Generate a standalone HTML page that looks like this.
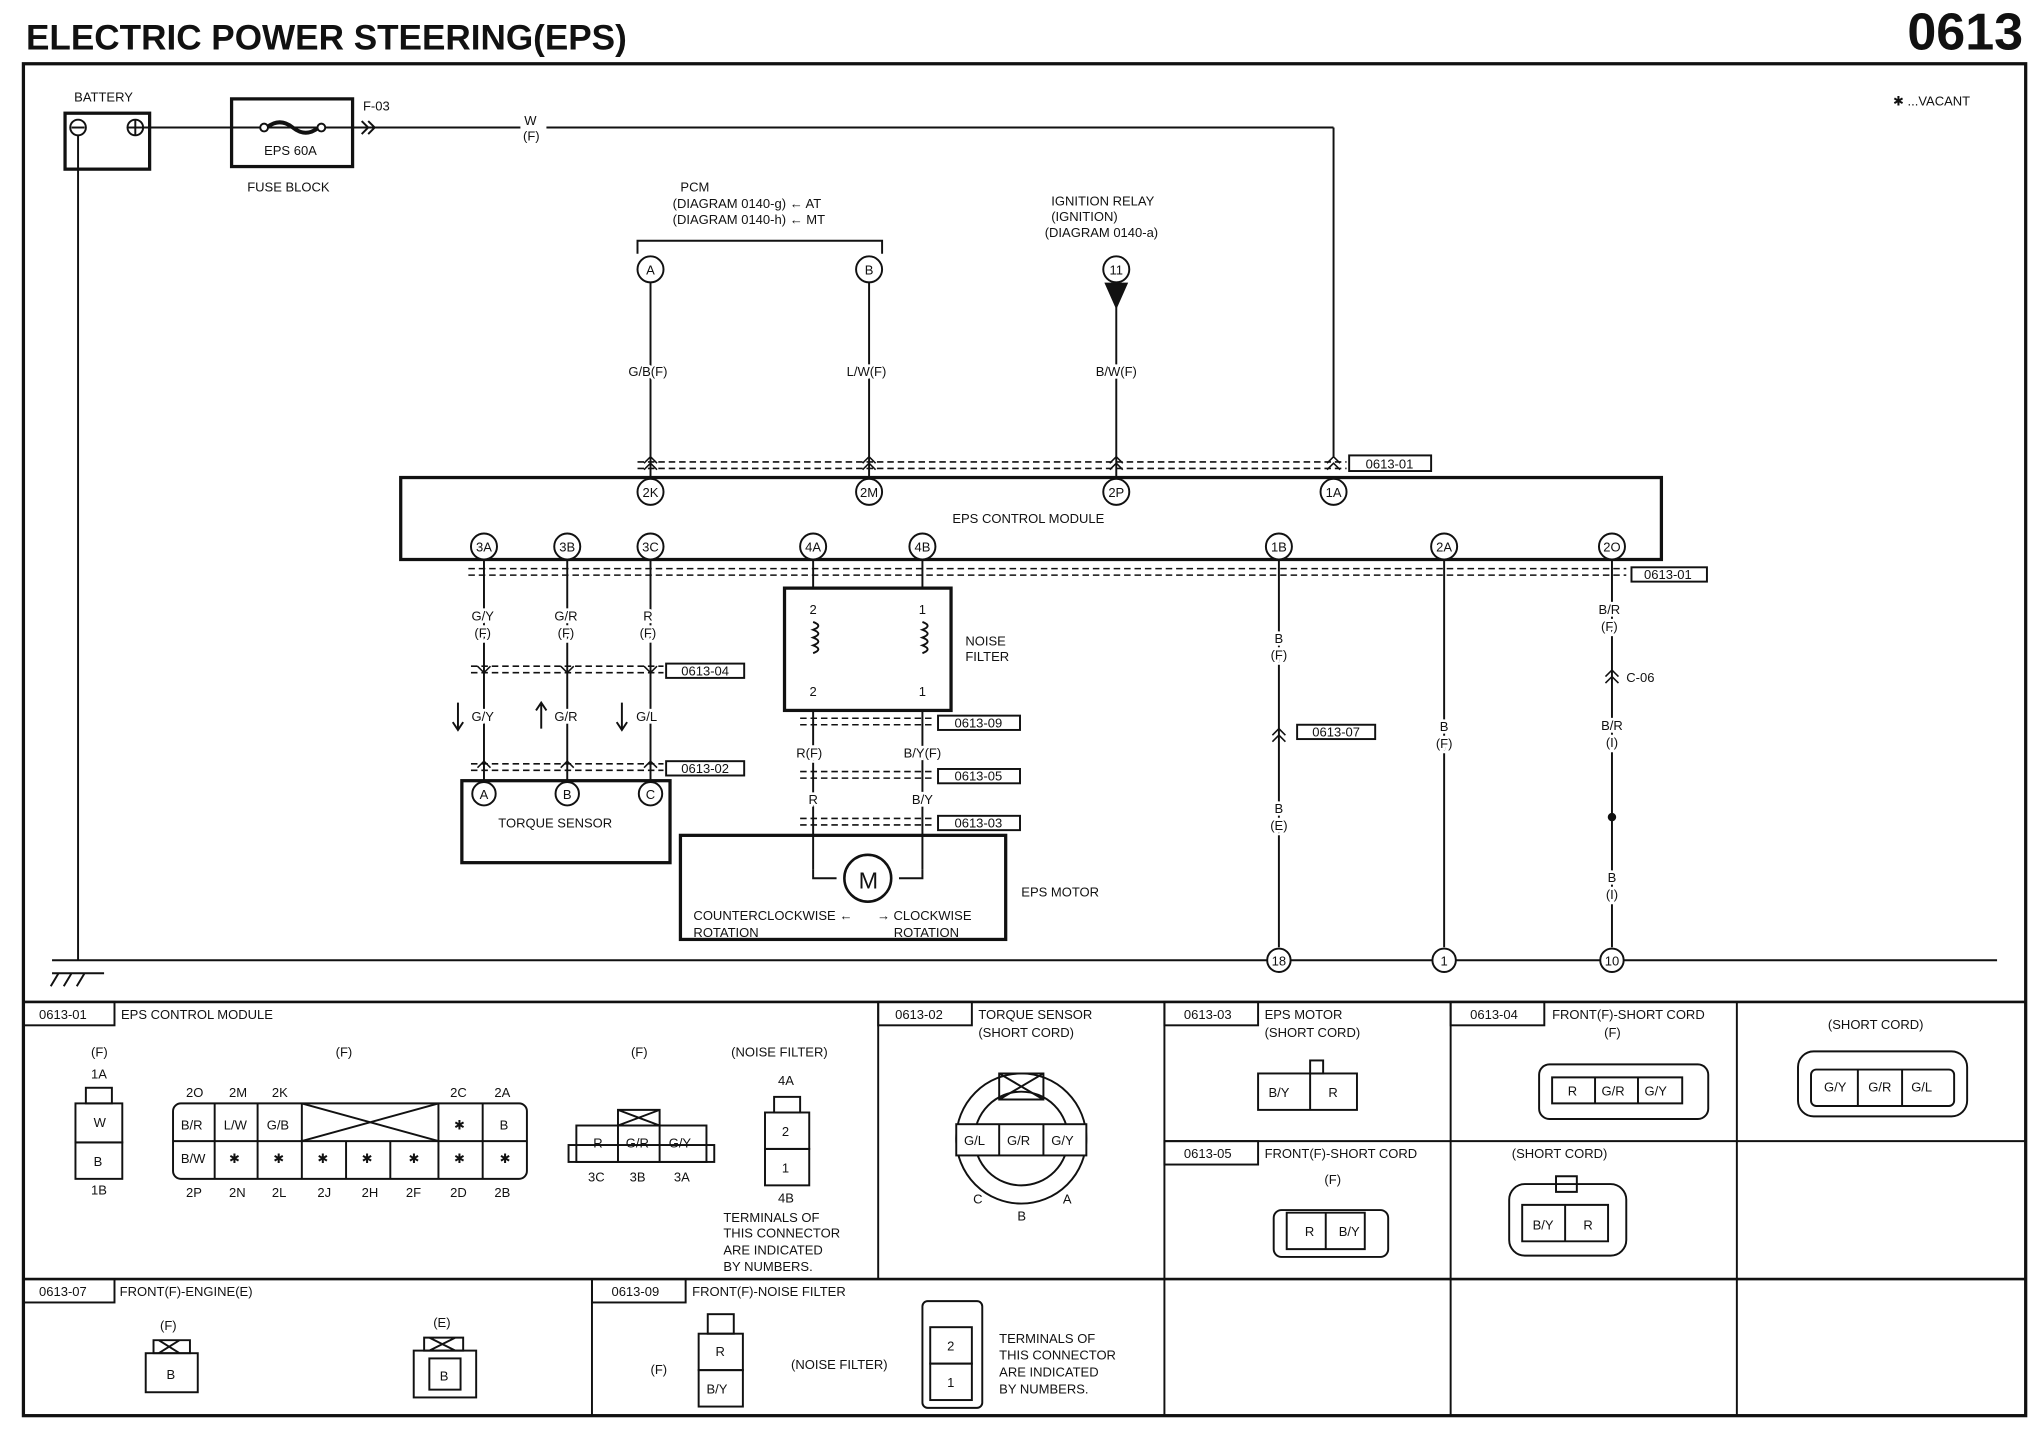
<!DOCTYPE html>
<html><head><meta charset="utf-8"><style>
html,body{margin:0;padding:0;background:#fff}
svg{display:block}
text{font-family:"Liberation Sans",Arial,sans-serif;font-size:10px;fill:#111}
.b{font-weight:bold}
.w text{paint-order:stroke;stroke:#fff;stroke-width:4px}
</style></head><body>
<svg width="2040" height="1456" viewBox="0 0 1568 1119" preserveAspectRatio="none" xmlns="http://www.w3.org/2000/svg">
<g stroke="#111" fill="none" stroke-width="1.5">
<rect x="18" y="49" width="1539" height="1039" stroke-width="2.5"/>
<line x1="18" y1="770" x2="1557" y2="770" stroke-width="2"/>
<line x1="18" y1="983" x2="1557" y2="983" stroke-width="2"/>
<line x1="675" y1="770" x2="675" y2="983"/>
<line x1="895" y1="770" x2="895" y2="1088"/>
<line x1="1115" y1="770" x2="1115" y2="1088"/>
<line x1="1335" y1="770" x2="1335" y2="1088"/>
<line x1="455" y1="983" x2="455" y2="1088"/>
<line x1="895" y1="877" x2="1557" y2="877"/>
<rect x="50" y="87" width="65" height="43" stroke-width="2.5"/>
<circle cx="60" cy="98" r="6"/><line x1="55" y1="98" x2="65" y2="98"/>
<circle cx="104" cy="98" r="6"/><line x1="98" y1="98" x2="110" y2="98"/><line x1="104" y1="92" x2="104" y2="104"/>
<line x1="110" y1="98" x2="400" y2="98"/>
<line x1="420" y1="98" x2="1025" y2="98"/>
<line x1="1025" y1="98" x2="1025" y2="352"/>
<rect x="178" y="76" width="93" height="52" stroke-width="2.5"/>
<path d="M205 98 q10-8 20 0 q10 8 20 0" stroke-width="3"/>
<circle cx="203" cy="98" r="3" fill="#fff"/><circle cx="247" cy="98" r="3" fill="#fff"/>
<path d="M278 93 l5 5 l-5 5 M283 93 l5 5 l-5 5"/>
<line x1="60" y1="104" x2="60" y2="738"/>
<line x1="40" y1="738" x2="1535" y2="738"/>
<path d="M40 748 h40 M45 748 l-6 10 M55 748 l-6 10 M65 748 l-6 10"/>
<path d="M490 195 v-10 h188 v10"/>
<circle cx="500" cy="207" r="10"/><circle cx="668" cy="207" r="10"/><circle cx="858" cy="207" r="10"/>
<path d="M850 218 h16 l-8 18 z" fill="#111"/>
<line x1="500" y1="217" x2="500" y2="367"/>
<line x1="668" y1="217" x2="668" y2="367"/>
<line x1="858" y1="236" x2="858" y2="367"/>
<g stroke-dasharray="5 3" stroke-width="1.2">
<line x1="490" y1="355" x2="1035" y2="355"/><line x1="490" y1="360" x2="1035" y2="360"/>
<line x1="360" y1="437" x2="1250" y2="437"/><line x1="360" y1="442" x2="1250" y2="442"/>
<line x1="362" y1="512" x2="510" y2="512"/><line x1="362" y1="517" x2="510" y2="517"/>
<line x1="362" y1="587" x2="510" y2="587"/><line x1="362" y1="592" x2="510" y2="592"/>
<line x1="615" y1="552" x2="718" y2="552"/><line x1="615" y1="557" x2="718" y2="557"/>
<line x1="615" y1="593" x2="718" y2="593"/><line x1="615" y1="598" x2="718" y2="598"/>
<line x1="615" y1="629" x2="718" y2="629"/><line x1="615" y1="634" x2="718" y2="634"/>
</g>
<rect x="308" y="367" width="969" height="63" stroke-width="2.5"/>
<g fill="#fff">
<circle cx="500" cy="378" r="10"/><circle cx="668" cy="378" r="10"/><circle cx="858" cy="378" r="10"/><circle cx="1025" cy="378" r="10"/>
<circle cx="372" cy="420" r="10"/><circle cx="436" cy="420" r="10"/><circle cx="500" cy="420" r="10"/><circle cx="625" cy="420" r="10"/><circle cx="709" cy="420" r="10"/><circle cx="983" cy="420" r="10"/><circle cx="1110" cy="420" r="10"/><circle cx="1239" cy="420" r="10"/>
</g>
<line x1="372" y1="430" x2="372" y2="600"/><line x1="436" y1="430" x2="436" y2="600"/><line x1="500" y1="430" x2="500" y2="600"/>
<line x1="625" y1="430" x2="625" y2="452"/><line x1="709" y1="430" x2="709" y2="452"/>
<line x1="625" y1="546" x2="625" y2="668"/><line x1="709" y1="546" x2="709" y2="668"/>
<line x1="983" y1="430" x2="983" y2="728"/><line x1="1110" y1="430" x2="1110" y2="728"/><line x1="1239" y1="430" x2="1239" y2="728"/>
<circle cx="1239" cy="628" r="2.5" fill="#111"/>
<g stroke-width="1.2">
<path d="M495 356 l5-5 l5 5 M495 361 l5-5 l5 5 M663 356 l5-5 l5 5 M663 361 l5-5 l5 5 M853 356 l5-5 l5 5 M853 361 l5-5 l5 5 M1020 356 l5-5 l5 5 M1020 361 l5-5 l5 5"/>
<path d="M367 512 l5 5 l5-5 M431 512 l5 5 l5-5 M495 512 l5 5 l5-5 M367 590 l5-5 l5 5 M431 590 l5-5 l5 5 M495 590 l5-5 l5 5"/>
<path d="M978 565 l5-5 l5 5 M978 570 l5-5 l5 5 M1234 520 l5-5 l5 5 M1234 525 l5-5 l5 5"/>
</g>
<circle cx="983" cy="738" r="9" fill="#fff"/><circle cx="1110" cy="738" r="9" fill="#fff"/><circle cx="1239" cy="738" r="9" fill="#fff"/>
<rect x="603" y="452" width="128" height="94" stroke-width="2.5"/>
<path d="M625 478 q8 3 0 6 q8 3 0 6 q8 3 0 6 q8 3 0 6 M709 478 q8 3 0 6 q8 3 0 6 q8 3 0 6 q8 3 0 6"/>
<rect x="355" y="600" width="160" height="63" stroke-width="2.5"/>
<circle cx="372" cy="610" r="9" fill="#fff"/><circle cx="436" cy="610" r="9" fill="#fff"/><circle cx="500" cy="610" r="9" fill="#fff"/>
<rect x="523" y="642" width="250" height="80" stroke-width="2.5"/>
<path d="M625 668 v7 h18 M709 668 v7 h-18"/>
<circle cx="667" cy="675" r="18" stroke-width="2"/>
<path d="M352 540 v20 M348 555 l4 6 l4-6 M416 540 v20 M412 546 l4-6 l4 6 M478 540 v20 M474 555 l4 6 l4-6"/>
<rect x="1037" y="350" width="63" height="12"/><rect x="1254" y="436" width="58" height="11"/>
<rect x="512" y="510" width="60" height="11"/><rect x="512" y="585" width="60" height="11"/>
<rect x="721" y="550" width="63" height="11"/><rect x="721" y="591" width="63" height="11"/><rect x="721" y="627" width="63" height="11"/>
<rect x="997" y="557" width="60" height="11"/>
<rect x="18" y="770" width="70" height="18"/><rect x="675" y="770" width="72" height="18"/><rect x="895" y="770" width="72" height="18"/><rect x="1115" y="770" width="72" height="18"/><rect x="895" y="877" width="72" height="18"/><rect x="18" y="983" width="70" height="18"/><rect x="455" y="983" width="72" height="18"/>
<rect x="58" y="848" width="36" height="30"/><rect x="58" y="878" width="36" height="28"/><rect x="66" y="836" width="20" height="12"/>
<rect x="133" y="848" width="272" height="58" rx="6"/><line x1="133" y1="877" x2="405" y2="877"/>
<path d="M165 848v58M198 848v58M232 848v58M266 877v29M300 877v29M337 848v58M371 848v58M232 848L337 877M232 877L337 848"/>
<rect x="443" y="865" width="100" height="28"/><rect x="437" y="880" width="112" height="13"/>
<path d="M475 865v28M507 865v28M475 853h32v12h-32zM475 853l32 12M507 853l-32 12"/>
<rect x="588" y="855" width="34" height="28"/><rect x="588" y="883" width="34" height="28"/><rect x="595" y="843" width="20" height="12"/>
<circle cx="785" cy="875" r="50"/><circle cx="785" cy="875" r="36"/>
<rect x="735" y="864" width="100" height="24" fill="#fff"/><path d="M768 864v24M802 864v24"/>
<path d="M768 825h34v20h-34zM768 825l34 20M802 825l-34 20"/>
<rect x="967" y="825" width="76" height="28"/><line x1="1007" y1="825" x2="1007" y2="853"/><rect x="1007" y="815" width="10" height="10"/>
<rect x="1183" y="818" width="130" height="42" rx="8"/><path d="M1193 828h100v20h-100zM1226 828v20M1259 828v20"/>
<rect x="1382" y="808" width="130" height="50" rx="12"/><rect x="1392" y="822" width="110" height="28" rx="4"/><path d="M1428 822v28M1462 822v28"/>
<rect x="979" y="930" width="88" height="36" rx="6"/><path d="M989 932h60v28h-60zM1019 932v28"/>
<rect x="1160" y="910" width="90" height="55" rx="12"/><path d="M1170 926h66v28h-66zM1203 926v28M1196 904h16v12h-16z"/>
<rect x="112" y="1040" width="40" height="30"/><path d="M118 1030h28v10h-28zM122 1030l16 10M138 1030l-16 10"/>
<rect x="318" y="1038" width="48" height="36"/><rect x="330" y="1044" width="24" height="24"/><path d="M326 1028h30v10h-30zM330 1028l20 10M350 1028l-20 10"/>
<rect x="537" y="1025" width="34" height="28"/><rect x="537" y="1053" width="34" height="28"/><rect x="544" y="1010" width="20" height="15"/>
<rect x="709" y="1000" width="46" height="82" rx="4"/><rect x="715" y="1020" width="32" height="28"/><rect x="715" y="1048" width="32" height="28"/>
</g>
<text class="b" x="20" y="38" style="font-size:27px">ELECTRIC POWER STEERING(EPS)</text>
<text class="b" x="1555" y="38" text-anchor="end" style="font-size:40px">0613</text>
<text x="57" y="78">BATTERY</text>
<text x="203" y="119">EPS 60A</text><text x="190" y="147">FUSE BLOCK</text>
<text x="279" y="85">F-03</text>
<text x="403" y="96">W</text><text x="402" y="108">(F)</text>
<text x="1455" y="81">✱ ...VACANT</text>
<text x="523" y="147">PCM</text><text x="517" y="160">(DIAGRAM 0140-g) ← AT</text><text x="517" y="172">(DIAGRAM 0140-h) ← MT</text>
<text x="808" y="158">IGNITION RELAY</text><text x="808" y="170">(IGNITION)</text><text x="803" y="182">(DIAGRAM 0140-a)</text>
<g text-anchor="middle" style="font-size:9px">
<text x="500" y="211">A</text><text x="668" y="211">B</text><text x="858" y="211">11</text>
<text x="500" y="382">2K</text><text x="668" y="382">2M</text><text x="858" y="382">2P</text><text x="1025" y="382">1A</text>
<text x="372" y="424">3A</text><text x="436" y="424">3B</text><text x="500" y="424">3C</text><text x="625" y="424">4A</text><text x="709" y="424">4B</text><text x="983" y="424">1B</text><text x="1110" y="424">2A</text><text x="1239" y="424">2O</text>
<text x="372" y="614">A</text><text x="436" y="614">B</text><text x="500" y="614">C</text>
<text x="983" y="742">18</text><text x="1110" y="742">1</text><text x="1239" y="742">10</text>
<g class="w">
<text x="498" y="289">G/B(F)</text><text x="666" y="289">L/W(F)</text><text x="858" y="289">B/W(F)</text>
<text x="371" y="477">G/Y</text><text x="371" y="490">(F)</text><text x="435" y="477">G/R</text><text x="435" y="490">(F)</text><text x="498" y="477">R</text><text x="498" y="490">(F)</text>
<text x="371" y="554">G/Y</text><text x="435" y="554">G/R</text><text x="497" y="554">G/L</text>
<text x="622" y="582">R(F)</text><text x="709" y="582">B/Y(F)</text><text x="625" y="618">R</text><text x="709" y="618">B/Y</text>
<text x="983" y="494">B</text><text x="983" y="507">(F)</text><text x="983" y="625">B</text><text x="983" y="638">(E)</text>
<text x="1110" y="562">B</text><text x="1110" y="575">(F)</text>
<text x="1237" y="472">B/R</text><text x="1237" y="485">(F)</text><text x="1239" y="561">B/R</text><text x="1239" y="574">(I)</text><text x="1239" y="678">B</text><text x="1239" y="691">(I)</text>
</g>
<text x="625" y="472">2</text><text x="709" y="472">1</text><text x="625" y="535">2</text><text x="709" y="535">1</text>
<text x="1068" y="360">0613-01</text><text x="1282" y="445">0613-01</text>
<text x="542" y="519">0613-04</text><text x="542" y="594">0613-02</text>
<text x="752" y="559">0613-09</text><text x="752" y="600">0613-05</text><text x="752" y="636">0613-03</text><text x="1027" y="566">0613-07</text>
</g>
<text x="742" y="496">NOISE</text><text x="742" y="508">FILTER</text>
<text x="1250" y="524">C-06</text>
<text x="383" y="636">TORQUE SENSOR</text>
<text x="660" y="683" style="font-size:18px">M</text>
<text x="533" y="707">COUNTERCLOCKWISE ←</text><text x="533" y="720">ROTATION</text>
<text x="674" y="707">→ CLOCKWISE</text><text x="687" y="720">ROTATION</text>
<text x="785" y="689">EPS MOTOR</text>
<text x="732" y="402">EPS CONTROL MODULE</text>
<text x="30" y="783">0613-01</text><text x="93" y="783">EPS CONTROL MODULE</text>
<text x="688" y="783">0613-02</text><text x="752" y="783">TORQUE SENSOR</text><text x="752" y="797">(SHORT CORD)</text>
<text x="910" y="783">0613-03</text><text x="972" y="783">EPS MOTOR</text><text x="972" y="797">(SHORT CORD)</text>
<text x="1130" y="783">0613-04</text><text x="1193" y="783">FRONT(F)-SHORT CORD</text><text x="1233" y="797">(F)</text>
<text x="1405" y="791">(SHORT CORD)</text>
<text x="910" y="890">0613-05</text><text x="972" y="890">FRONT(F)-SHORT CORD</text><text x="1018" y="910">(F)</text><text x="1162" y="890">(SHORT CORD)</text>
<text x="30" y="996">0613-07</text><text x="92" y="996">FRONT(F)-ENGINE(E)</text>
<text x="470" y="996">0613-09</text><text x="532" y="996">FRONT(F)-NOISE FILTER</text>
<text x="70" y="812">(F)</text><text x="70" y="829">1A</text><text x="72" y="866">W</text><text x="72" y="896">B</text><text x="70" y="918">1B</text>
<text x="258" y="812">(F)</text><text x="485" y="812">(F)</text><text x="562" y="812">(NOISE FILTER)</text>
<text x="143" y="843">2O</text><text x="176" y="843">2M</text><text x="209" y="843">2K</text><text x="346" y="843">2C</text><text x="380" y="843">2A</text>
<text x="139" y="868">B/R</text><text x="172" y="868">L/W</text><text x="205" y="868">G/B</text><text x="349" y="868">✱</text><text x="384" y="868">B</text>
<text x="139" y="894">B/W</text><text x="176" y="894">✱</text><text x="210" y="894">✱</text><text x="244" y="894">✱</text><text x="278" y="894">✱</text><text x="314" y="894">✱</text><text x="349" y="894">✱</text><text x="384" y="894">✱</text>
<text x="143" y="920">2P</text><text x="176" y="920">2N</text><text x="209" y="920">2L</text><text x="244" y="920">2J</text><text x="278" y="920">2H</text><text x="312" y="920">2F</text><text x="346" y="920">2D</text><text x="380" y="920">2B</text>
<text x="456" y="882">R</text><text x="481" y="882">G/R</text><text x="514" y="882">G/Y</text>
<text x="452" y="908">3C</text><text x="484" y="908">3B</text><text x="518" y="908">3A</text>
<text x="598" y="834">4A</text><text x="601" y="873">2</text><text x="601" y="901">1</text><text x="598" y="924">4B</text>
<text x="556" y="939">TERMINALS OF</text><text x="556" y="951">THIS CONNECTOR</text><text x="556" y="964">ARE INDICATED</text><text x="556" y="977">BY NUMBERS.</text>
<text x="741" y="880">G/L</text><text x="774" y="880">G/R</text><text x="808" y="880">G/Y</text>
<text x="748" y="925">C</text><text x="782" y="938">B</text><text x="817" y="925">A</text>
<text x="975" y="843">B/Y</text><text x="1021" y="843">R</text>
<text x="1205" y="842">R</text><text x="1231" y="842">G/R</text><text x="1264" y="842">G/Y</text>
<text x="1402" y="839">G/Y</text><text x="1436" y="839">G/R</text><text x="1469" y="839">G/L</text>
<text x="1003" y="950">R</text><text x="1029" y="950">B/Y</text>
<text x="1178" y="945">B/Y</text><text x="1217" y="945">R</text>
<text x="123" y="1022">(F)</text><text x="128" y="1060">B</text>
<text x="333" y="1020">(E)</text><text x="338" y="1061">B</text>
<text x="500" y="1056">(F)</text><text x="608" y="1052">(NOISE FILTER)</text>
<text x="550" y="1042">R</text><text x="543" y="1071">B/Y</text>
<text x="728" y="1038">2</text><text x="728" y="1066">1</text>
<text x="768" y="1032">TERMINALS OF</text><text x="768" y="1045">THIS CONNECTOR</text><text x="768" y="1058">ARE INDICATED</text><text x="768" y="1071">BY NUMBERS.</text>
</svg>
</body></html>
